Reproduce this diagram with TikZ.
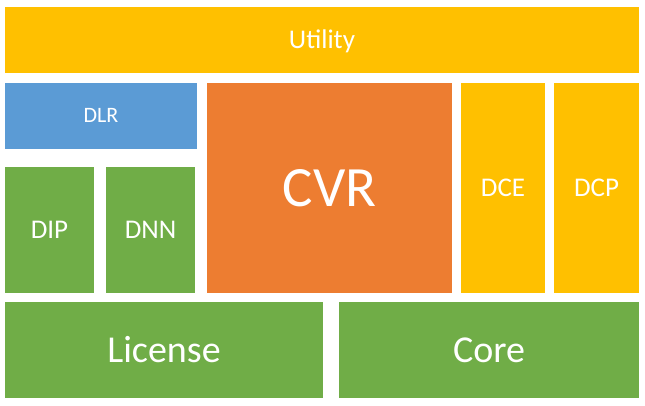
\documentclass[tikz,border=0pt]{standalone}
\usepackage{fontspec}
\setmainfont{Carlito}
\definecolor{cyellow}{HTML}{FFC000}
\definecolor{cblue}{HTML}{5B9BD5}
\definecolor{corange}{HTML}{ED7D31}
\definecolor{cgreen}{HTML}{70AD47}
\tikzset{
  block/.style={rectangle, inner sep=0pt, outer sep=0pt, anchor=north west, text=white, draw=none, text depth=0pt},
  fsmall/.style={font=\fontsize{22}{24}\selectfont, text height=14.2pt},
  fmid/.style={font=\fontsize{27}{29}\selectfont, text height=17.4pt},
  fbig/.style={font=\fontsize{38}{40}\selectfont, text height=24.5pt},
  fhuge/.style={font=\fontsize{57}{60}\selectfont, text height=36.7pt},
}
\begin{document}
\begin{tikzpicture}[x=1pt,y=-1pt]
\useasboundingbox (0,0) rectangle (645,405);
\node[block, fill=cyellow, fmid, minimum width=634pt, minimum height=65.7pt] (utility) at (5,7) {Utility};
\node[block, fill=cblue, fsmall, minimum width=192pt, minimum height=65.7pt] (dlr) at (5,83) {DLR};
\node[block, fill=corange, fhuge, minimum width=245pt, minimum height=209.7pt] (cvr) at (207,83) {CVR};
\node[block, fill=cyellow, fmid, minimum width=84pt, minimum height=209.7pt] (dce) at (461,83) {DCE};
\node[block, fill=cyellow, fmid, minimum width=85pt, minimum height=209.7pt] (dcp) at (554,83) {DCP};
\node[block, fill=cgreen, fmid, minimum width=89pt, minimum height=125.7pt] (dip) at (5,167) {DIP};
\node[block, fill=cgreen, fmid, minimum width=89pt, minimum height=125.7pt] (dnn) at (106,167) {DNN};
\node[block, fill=cgreen, fbig, minimum width=318pt, minimum height=95.7pt] (license) at (5,302) {License};
\node[block, fill=cgreen, fbig, minimum width=300pt, minimum height=95.7pt] (core) at (339,302) {Core};
\end{tikzpicture}
\end{document}
